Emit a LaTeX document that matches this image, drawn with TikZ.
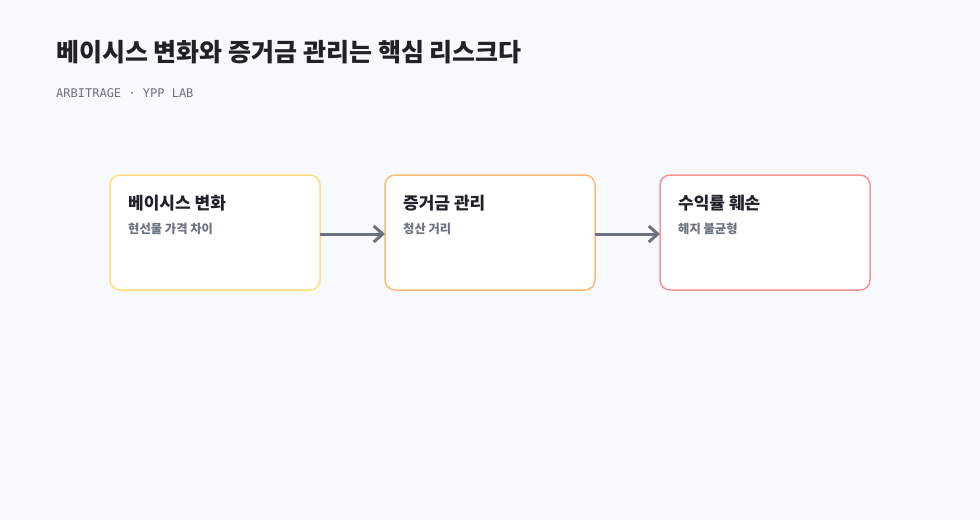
\documentclass[tikz,border=0pt]{standalone}
\usepackage{fontspec}
\setmainfont{Noto Sans CJK KR}
\setmonofont{DejaVu Sans Mono}
\usepackage{tikz}
\usetikzlibrary{arrows.meta,positioning,calc}

\definecolor{pagebg}{HTML}{F8F9FC}
\definecolor{inkdark}{HTML}{1F2329}
\definecolor{inkgray}{HTML}{6B7280}
\definecolor{lineyellow}{HTML}{FDE07E}
\definecolor{lineorange}{HTML}{FDBA74}
\definecolor{linered}{HTML}{F99494}

\begin{document}
\begin{tikzpicture}[
    x=1pt, y=1pt,
    node distance=65pt,
    box/.style={rectangle, draw, line width=1.5pt, fill=white, rounded corners=10pt, minimum width=210pt, minimum height=115pt, outer sep=0pt},
    boxtitle/.style={anchor=base west, inner sep=0pt, font=\bfseries\fontsize{17}{20}\selectfont, text=inkdark},
    boxnote/.style={anchor=base west, inner sep=0pt, font=\bfseries\fontsize{12.3}{14}\selectfont, text=inkgray},
    flow/.style={-{Straight Barb[length=9pt,width=16pt]}, line width=3pt, draw=inkgray}
]
\fill[pagebg] (0,0) rectangle (980,-520);
\useasboundingbox (0,0) rectangle (980,-520);

% Heading
\node[anchor=base west, inner sep=0pt, font=\bfseries\fontsize{25}{30}\selectfont, text=inkdark] (heading) at (56,-61) {베이시스 변화와 증거금 관리는 핵심 리스크다};
\node[anchor=base west, inner sep=0pt, font=\ttfamily\fontsize{12}{14}\selectfont, text=inkgray] (source) at (56,-97) {ARBITRAGE · YPP LAB};

% Risk chain
\node[box, draw=lineyellow] (basis) at (215,-232.5) {};
\node[box, draw=lineorange, right=of basis] (margin) {};
\node[box, draw=linered, right=of margin] (yield) {};

\node[boxtitle] (basistitle) at ([shift={(18,-34)}]basis.north west) {베이시스 변화};
\node[boxnote] (basisnote) at ([shift={(18,-58)}]basis.north west) {현선물 가격 차이};
\node[boxtitle] (margintitle) at ([shift={(18,-34)}]margin.north west) {증거금 관리};
\node[boxnote] (marginnote) at ([shift={(18,-58)}]margin.north west) {청산 거리};
\node[boxtitle] (yieldtitle) at ([shift={(18,-34)}]yield.north west) {수익률 훼손};
\node[boxnote] (yieldnote) at ([shift={(18,-58)}]yield.north west) {헤지 불균형};

\draw[flow] ([yshift=-1.5]basis.east) -- ([yshift=-1.5]margin.west);
\draw[flow] ([yshift=-1.5]margin.east) -- ([yshift=-1.5]yield.west);
\end{tikzpicture}
\end{document}
